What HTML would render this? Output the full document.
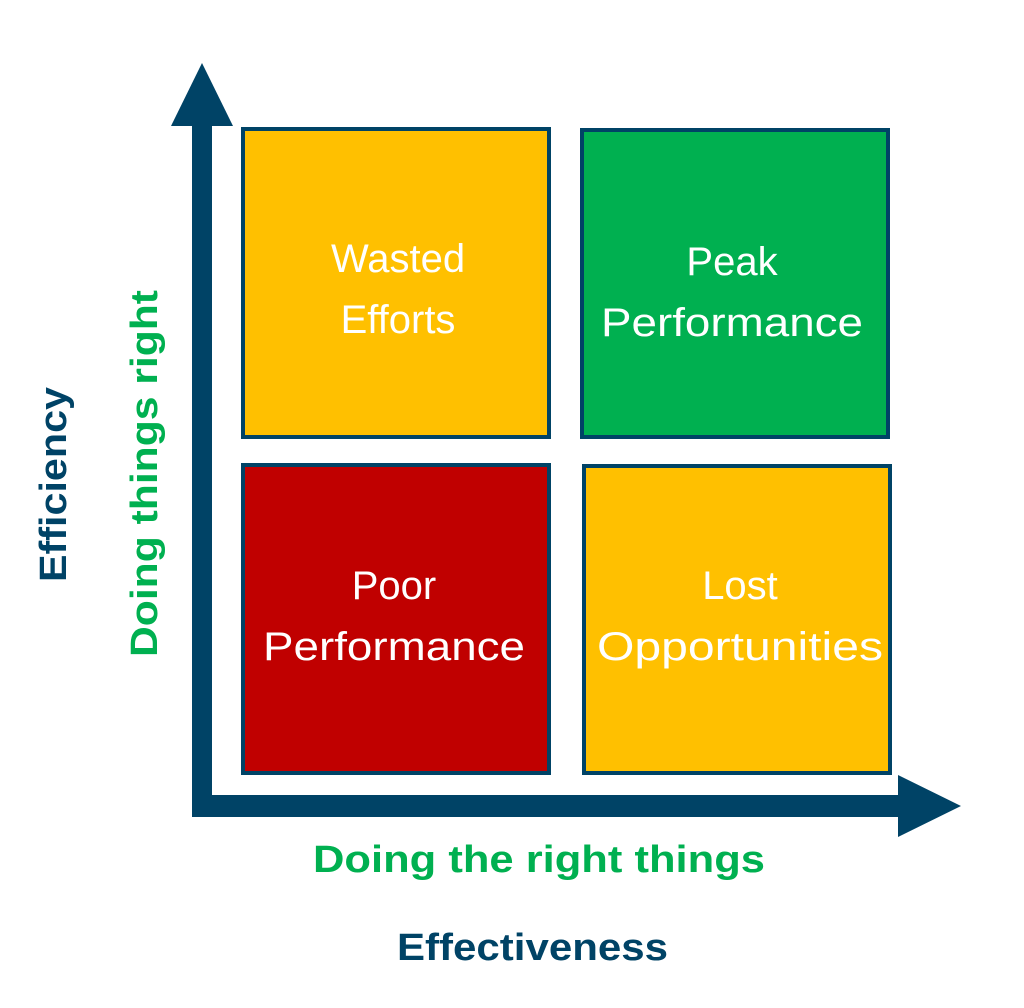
<!DOCTYPE html>
<html><head><meta charset="utf-8"><style>
html,body{margin:0;padding:0;background:#fff;}
svg{display:block;}
</style></head><body>
<svg width="1024" height="1008" viewBox="0 0 1024 1008" xmlns="http://www.w3.org/2000/svg">
<g fill="#004366">
<rect x="192" y="124" width="20" height="693"/>
<polygon points="202,63 233,126 171,126"/>
<rect x="192" y="795" width="710" height="22"/>
<polygon points="898,775 961,806 898,837"/>
</g>
<g stroke="#004366" stroke-width="4">
<rect x="243" y="129" width="306" height="308" fill="#ffc000"/>
<rect x="582" y="130" width="306" height="307" fill="#00b050"/>
<rect x="243" y="465" width="306" height="308" fill="#c00000"/>
<rect x="584" y="466" width="306" height="307" fill="#ffc000"/>
</g>
<g fill="#fff" font-family="Liberation Sans, sans-serif" font-size="40" text-anchor="middle">
<text x="398" y="272">Wasted</text>
<text x="398" y="333">Efforts</text>
<text x="732" y="275">Peak</text>
<text x="732" y="336" textLength="262" lengthAdjust="spacingAndGlyphs">Performance</text>
<text x="394" y="599">Poor</text>
<text x="394" y="660" textLength="262" lengthAdjust="spacingAndGlyphs">Performance</text>
<text x="740" y="599">Lost</text>
<text x="740" y="660" textLength="286" lengthAdjust="spacingAndGlyphs">Opportunities</text>
</g>
<g font-family="Liberation Sans, sans-serif" font-weight="bold" font-size="38">
<text x="313" y="872" fill="#00b050" textLength="452" lengthAdjust="spacingAndGlyphs">Doing the right things</text>
<text x="397" y="960" fill="#004366" textLength="271" lengthAdjust="spacingAndGlyphs">Effectiveness</text>
<text transform="translate(66,582) rotate(-90)" fill="#004366" textLength="195" lengthAdjust="spacingAndGlyphs">Efficiency</text>
<text transform="translate(157,657) rotate(-90)" fill="#00b050" textLength="367" lengthAdjust="spacingAndGlyphs">Doing things right</text>
</g>
</svg>
</body></html>
